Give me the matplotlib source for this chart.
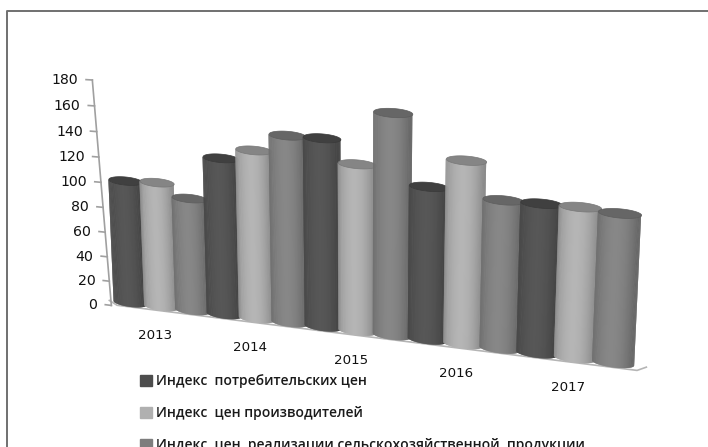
import numpy as np
import matplotlib
matplotlib.use('Agg')
import matplotlib.pyplot as plt
from matplotlib.collections import PolyCollection
from matplotlib.patches import Patch
from matplotlib.transforms import Transform, Affine2D

years = ['2013', '2014', '2015', '2016', '2017']
series_names = ['Индекс  потребительских цен',
                'Индекс  цен производителей',
                'Индекс  цен  реализации сельскохозяйственной  продукции']
consumer = [98, 122, 143, 114, 109]
producer = [99, 130, 126, 135, 109]
farm = [89, 143, 165, 109, 107]
y_ticks = [0, 20, 40, 60, 80, 100, 120, 140, 160, 180]

# side colour (centre of the cylinder), cap colour
side_colors = [0.34, 0.71, 0.53]
cap_colors = [0.25, 0.52, 0.40]
legend_colors = ['#4d4d4d', '#b0b0b0', '#7d7d7d']

W, H = 708, 447
BAR_R = 0.54
DEPTH = 3.2
AXIS_X = -0.68


# the old excel 3d chart has perspective, so map (bar position, value) through a homography
def fit_homography(src, dst):
    rows, rhs = [], []
    for (x, y), (u, v) in zip(src, dst):
        rows.append([x, y, 1, 0, 0, 0, -u * x, -u * y])
        rows.append([0, 0, 0, x, y, 1, -v * x, -v * y])
        rhs += [u, v]
    return np.append(np.linalg.solve(np.array(rows, float), np.array(rhs, float)), 1).reshape(3, 3)


class Perspective(Transform):
    input_dims = output_dims = 2

    def __init__(self, mat):
        super().__init__()
        self.mat = mat

    def transform_non_affine(self, values):
        pts = np.column_stack([values, np.ones(len(values))]) @ self.mat.T
        return pts[:, :2] / pts[:, 2:]


mat = fit_homography([(0, 0), (14, 0), (0, 100), (14, 100)],
                     [(130, 303), (613, 363), (125, 178), (619, 223)])

plt.rcParams['font.family'] = ['Open Sans', 'DejaVu Sans']
plt.rcParams['font.weight'] = 600
fig = plt.figure(figsize=(W / 100, H / 100), dpi=100, facecolor='white')
ax = fig.add_axes([0, 0, 1, 1])
ax.set_xlim(0, W)
ax.set_ylim(H, 0)
ax.axis('off')
proj = Perspective(mat) + ax.transData
# the value axis leans more than the bars and stands a bit lower than their bases
axis_tf = Perspective(mat) + Affine2D.from_values(1, 0, 0.04, 0.99, -10, 8) + ax.transData

# outer frame of the chart, only top and left are in the crop
ax.plot([7, 7, W], [H, 11, 11], color='#707070', lw=1.4)

# floor
floor = [(AXIS_X, 0), (AXIS_X + 0.25, -DEPTH), (14.62, -DEPTH), (14.85, 0)]
ax.plot(*zip(*floor), color='#b5b5b5', lw=1.2, transform=proj, zorder=2)

# value axis
ax.plot([AXIS_X, AXIS_X], [0, 180], color='#a0a0a0', lw=1.2, transform=axis_tf, zorder=2)
for tick in y_ticks:
    ax.plot([AXIS_X - 0.2, AXIS_X], [tick, tick], color='#a0a0a0', lw=1.2, transform=axis_tf, zorder=2)
    ax.annotate(str(tick), (AXIS_X, tick), xycoords=axis_tf, xytext=(-10, 0),
                textcoords='offset points', ha='right', va='center', fontsize=10.2, color='#111111',
                family='DejaVu Sans', fontweight='normal')


def draw_cylinder(pos, value, side, cap, z):
    angles = np.linspace(np.pi, 2 * np.pi, 61)
    strips, colors = [], []
    # every strip runs on under the next one, otherwise the seams show up as lines
    for a0, a1, a2 in zip(angles[:-2], angles[1:-1], angles[2:]):
        x0, x2 = pos + BAR_R * np.cos(a0), pos + BAR_R * np.cos(a2)
        d0, d2 = DEPTH * np.sin(a0), DEPTH * np.sin(a2)
        strips.append([(x0, d0), (x2, d2), (x2, value + d2), (x0, value + d0)])
        # darker towards the edges of the cylinder, a little lighter left of centre
        t = np.cos(a1)
        shade = 0.72 + 0.28 * (1 - ((t + 0.1) / 1.1) ** 2)
        colors.append(str(min(side * shade, 1)))
    ax.add_collection(PolyCollection(strips, facecolors=colors, edgecolors='none',
                                     transform=proj, zorder=z))
    ring = np.linspace(0, 2 * np.pi, 60)
    top = np.column_stack([pos + BAR_R * np.cos(ring), value + DEPTH * np.sin(ring)])
    ax.add_collection(PolyCollection([top], facecolors=str(cap), edgecolors=str(cap * 0.9), linewidths=0.5,
                                     transform=proj, zorder=z + 0.5))


values = np.column_stack([consumer, producer, farm]).ravel()
for i, val in enumerate(values):
    draw_cylinder(i, val, side_colors[i % 3], cap_colors[i % 3], 3 + i)

# year labels sit under the middle bar of each group
for n, year in enumerate(years):
    ax.annotate(year, (3 * n + 1, 0), xycoords=proj, xytext=(-4.5, -21), textcoords='offset points',
                ha='center', va='center', fontsize=9.6, color='#111111', family='DejaVu Sans',
                fontweight='normal')

handles = [Patch(facecolor=c, edgecolor=c) for c in legend_colors]
ax.legend(handles, series_names, loc='upper left', bbox_to_anchor=(140, 374), bbox_transform=ax.transData,
          frameon=False, borderpad=0, borderaxespad=0, handlelength=0.85, handleheight=0.85, handletextpad=0.3,
          labelspacing=1.3, fontsize=10.0, labelcolor='#1a1a1a')

fig.savefig('out.png', dpi=100, facecolor='white')
